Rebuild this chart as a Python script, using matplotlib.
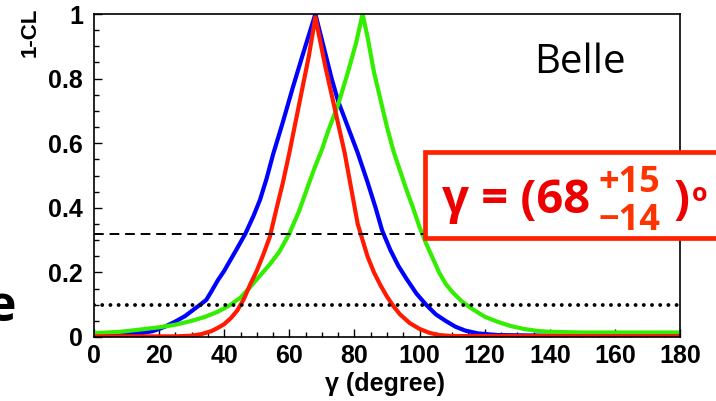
import matplotlib
matplotlib.use('Agg')
import matplotlib.pyplot as plt
from matplotlib.patches import Rectangle
from matplotlib.ticker import MultipleLocator

# --- data (gamma in degrees, 1-CL) ---
blue_x = [0, 5, 10, 15, 18, 20, 22, 25, 28, 31, 33, 34.5, 36, 38, 40, 42, 44, 46.5, 49, 51,
          53, 55, 58, 61, 64, 66, 68,
          69, 71, 73, 75, 78, 81, 84, 86.5, 88.5, 91, 93.5, 96, 99, 102, 105, 108, 111, 114,
          118, 124, 140, 180]
blue_y = [0.006, 0.007, 0.009, 0.013, 0.018, 0.025, 0.033, 0.048, 0.065, 0.088, 0.103, 0.115,
          0.14, 0.175, 0.205, 0.24, 0.275, 0.32, 0.375, 0.425, 0.49, 0.565, 0.665, 0.77, 0.87,
          0.935, 1.0,
          0.96, 0.88, 0.8, 0.73, 0.65, 0.57, 0.48, 0.4, 0.33, 0.27, 0.22, 0.18, 0.135, 0.1,
          0.07, 0.05, 0.032, 0.02, 0.011, 0.006, 0.004, 0.003]

red_x = [0, 25, 30, 33, 36, 38, 40, 42, 44, 46, 48, 50, 52, 54, 56, 58, 60, 62, 64, 66, 68,
         69, 71, 73, 75, 77, 79, 81, 82.5, 84, 86, 88, 90, 92, 94, 97, 100, 103, 106, 110, 180]
red_y = [0.002, 0.002, 0.004, 0.009, 0.018, 0.028, 0.04, 0.058, 0.082, 0.117, 0.163, 0.205,
         0.255, 0.31, 0.395, 0.477, 0.57, 0.67, 0.77, 0.87, 0.99,
         0.94, 0.84, 0.75, 0.66, 0.57, 0.46, 0.35, 0.3, 0.25, 0.2, 0.16, 0.125, 0.095, 0.07,
         0.043, 0.025, 0.013, 0.006, 0.003, 0.002]

green_x = [0, 8, 15, 20, 25, 30, 34, 38, 42, 45, 48, 51, 54, 57, 60, 63, 66, 68, 70, 72, 75,
           78, 80.5, 82.5,
           84, 86, 88, 90, 92, 94, 96, 98, 100, 102, 104, 106, 108, 110, 113, 116, 120, 124,
           128, 132, 136, 140, 150, 180]
green_y = [0.012, 0.016, 0.024, 0.03, 0.038, 0.05, 0.062, 0.078, 0.1, 0.122, 0.155, 0.19,
           0.225, 0.265, 0.32, 0.39, 0.475, 0.53, 0.58, 0.64, 0.72, 0.82, 0.91, 1.0,
           0.93, 0.82, 0.735, 0.65, 0.575, 0.515, 0.455, 0.4, 0.34, 0.29, 0.245, 0.2, 0.165,
           0.14, 0.11, 0.088, 0.063, 0.047, 0.034, 0.025, 0.019, 0.016, 0.014, 0.014]

cl_68 = 0.32   # dashed line
cl_90 = 0.10   # dotted line

x_ticks = [0, 20, 40, 60, 80, 100, 120, 140, 160, 180]
y_ticks = [0, 0.2, 0.4, 0.6, 0.8, 1.0]
y_tick_labels = ['0', '0.2', '0.4', '0.6', '0.8', '1']

W, H = 716, 401
fig = plt.figure(figsize=(W / 100, H / 100), dpi=100)
ax = fig.add_axes([94 / W, 1 - 337 / H, (680 - 94) / W, (337 - 14) / H])

ax.plot(blue_x, blue_y, color='#0000ff', lw=3.0, solid_joinstyle='round')
ax.plot(green_x, green_y, color='#33ee00', lw=3.0, solid_joinstyle='round')
ax.plot(red_x, red_y, color='#ff1a00', lw=3.0, solid_joinstyle='round')

ax.axhline(cl_68, color='black', lw=1.4, linestyle=(0, (5, 3)))
ax.axhline(cl_90, color='black', lw=2.8, linestyle=(0, (0.01, 2.1)), dash_capstyle='round')

ax.set_xlim(0, 180)
ax.set_ylim(0, 1)
ax.set_xticks(x_ticks)
ax.set_yticks(y_ticks)
ax.set_yticklabels(y_tick_labels)
ax.xaxis.set_minor_locator(MultipleLocator(5))
ax.yaxis.set_minor_locator(MultipleLocator(0.05))
ax.tick_params(which='both', direction='in', width=1.0)
ax.tick_params(which='major', length=6)
ax.tick_params(which='minor', length=3.5)
ax.tick_params(axis='y', pad=8)
ax.tick_params(axis='x', pad=5)
for lab in ax.get_xticklabels() + ax.get_yticklabels():
    lab.set_fontfamily('Liberation Sans')
    lab.set_fontweight('bold')
    lab.set_fontsize(18)
for sp in ax.spines.values():
    sp.set_linewidth(1.2)

fig.text(385 / W, 1 - 384 / H, 'γ (degree)', ha='center', va='center',
         fontfamily='Liberation Sans', fontweight='bold', fontsize=18)
fig.text(30 / W, 1 - 8 / H, '1-CL', rotation=90, ha='center', va='top',
         fontfamily='Liberation Sans', fontweight='bold', fontsize=16)

# Belle label
fig.text(534 / W, 1 - 73 / H, 'Belle', ha='left', va='baseline',
         fontfamily='Open Sans', fontsize=29)

# slide fragment at left edge (cut off in the original too)
fig.text(16 / W, 1 - 321 / H, 'e', ha='right', va='baseline',
         fontfamily='Open Sans', fontweight='bold', fontsize=36)

# result box
box = Rectangle((425 / W, 1 - 238 / H), 320 / W, 86 / H, transform=fig.transFigure,
                facecolor='white', edgecolor='#ff2200', lw=3.4, clip_on=False)
fig.patches.append(box)
fig.text(442 / W, 1 - 213 / H, 'γ = (68', ha='left', va='baseline', color='#ee0000',
         fontfamily='Open Sans', fontweight='bold', fontsize=34)
fig.text(599 / W, 1 - 192 / H, '+15', ha='left', va='baseline', color='#ff3300',
         fontfamily='Open Sans', fontweight='bold', fontsize=26)
fig.text(599 / W, 1 - 230 / H, '−14', ha='left', va='baseline', color='#ff3300',
         fontfamily='Open Sans', fontweight='bold', fontsize=26)
fig.text(674 / W, 1 - 213 / H, ')', ha='left', va='baseline', color='#ee0000',
         fontfamily='Open Sans', fontweight='bold', fontsize=34)
fig.text(692 / W, 1 - 201 / H, 'o', ha='left', va='baseline', color='#ee0000',
         fontfamily='Open Sans', fontweight='bold', fontsize=18)

fig.savefig('out.png', dpi=100)
